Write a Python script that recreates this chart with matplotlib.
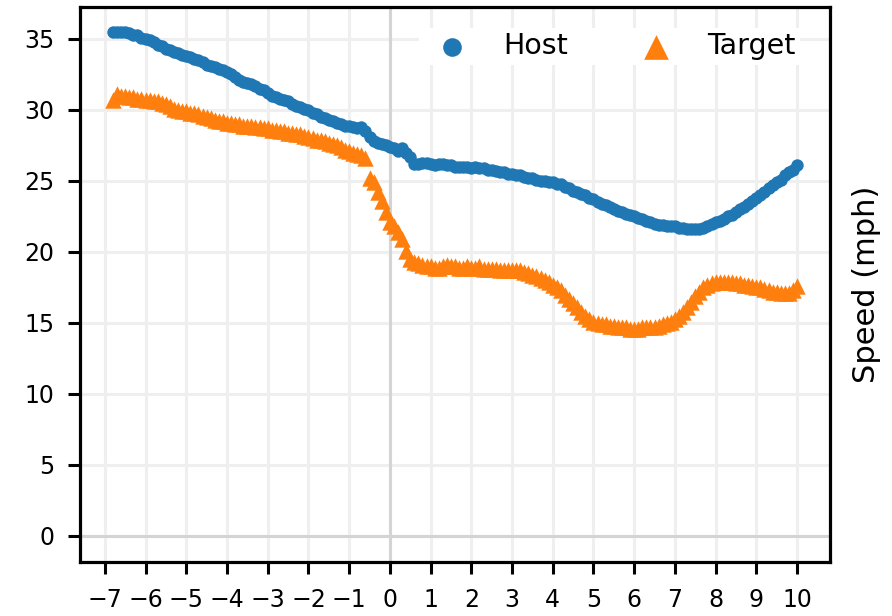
import numpy as np
import matplotlib
matplotlib.use('Agg')
import matplotlib.pyplot as plt

# time relative to the event (s), sampled every 0.1 s
t = np.round(np.arange(-6.8, 10.05, 0.1), 1)

host_speed = [
    35.5, 35.5, 35.5, 35.5, 35.4, 35.3, 35.3, 35.1,
    35.0, 34.9, 34.8, 34.6, 34.5, 34.3, 34.2, 34.1, 34.0, 33.9,
    33.8, 33.7, 33.6, 33.5, 33.4, 33.2, 33.1, 33.0, 32.9, 32.8,
    32.7, 32.5, 32.3, 32.1, 32.0, 31.9, 31.8, 31.7, 31.5, 31.4,
    31.2, 31.0, 30.9, 30.8, 30.7, 30.6, 30.4, 30.3, 30.2, 30.1,
    30.0, 29.8, 29.7, 29.5, 29.4, 29.3, 29.2, 29.1, 29.0, 28.9,
    28.9, 28.8, 28.7, 28.8, 28.5, 28.1, 27.8, 27.7, 27.6, 27.5,
    27.4, 27.3, 27.1, 27.3, 27.0, 26.7, 26.2, 26.2, 26.3, 26.3,
    26.2, 26.1, 26.2, 26.2, 26.1, 26.1, 26.0, 26.0, 26.0, 26.0,
    25.9, 26.0, 25.9, 25.9, 25.8, 25.8, 25.7, 25.6, 25.6, 25.5,
    25.5, 25.4, 25.4, 25.3, 25.2, 25.2, 25.1, 25.0, 25.0, 24.9,
    24.9, 24.8, 24.8, 24.6, 24.5, 24.3, 24.2, 24.1, 24.0, 23.8,
    23.7, 23.5, 23.4, 23.3, 23.2, 23.0, 22.9, 22.8, 22.7, 22.6,
    22.5, 22.4, 22.3, 22.2, 22.1, 22.0, 21.9, 21.9, 21.8, 21.8,
    21.8, 21.7, 21.7, 21.6, 21.6, 21.6, 21.6, 21.7, 21.8, 22.0,
    22.1, 22.2, 22.3, 22.5, 22.6, 22.8, 23.0, 23.2, 23.4, 23.6,
    23.8, 24.0, 24.2, 24.5, 24.7, 24.9, 25.1, 25.4, 25.6, 25.8,
    26.1,
]

target_speed = [
    30.7, 31.1, 31.0, 31.0, 30.9, 30.9, 30.8, 30.8,
    30.7, 30.7, 30.6, 30.6, 30.5, 30.4, 30.3, 30.1, 30.0, 29.9,
    29.9, 29.8, 29.8, 29.7, 29.6, 29.5, 29.4, 29.3, 29.2, 29.2,
    29.1, 29.1, 29.0, 29.0, 28.9, 28.9, 28.9, 28.8, 28.8, 28.7,
    28.7, 28.6, 28.6, 28.5, 28.5, 28.4, 28.4, 28.3, 28.3, 28.2,
    28.1, 28.0, 27.9, 27.9, 27.8, 27.7, 27.6, 27.5, 27.4, 27.2,
    27.1, 27.0, 26.9, 26.8, 26.6, 25.2, 24.9, 24.2, 23.6, 22.8,
    22.1, 21.8, 21.4, 20.9, 20.1, 19.5, 19.3, 19.2, 19.1, 19.0,
    19.0, 18.9, 18.9, 19.0, 19.1, 19.0, 19.0, 18.9, 18.9, 19.0,
    18.9, 18.9, 19.0, 18.8, 18.8, 18.8, 18.8, 18.7, 18.7, 18.7,
    18.7, 18.7, 18.7, 18.6, 18.5, 18.4, 18.3, 18.2, 18.0, 17.9,
    17.7, 17.5, 17.3, 17.0, 16.7, 16.4, 16.1, 15.8, 15.5, 15.3,
    15.1, 15.0, 14.9, 14.9, 14.8, 14.8, 14.7, 14.7, 14.7, 14.6,
    14.6, 14.6, 14.7, 14.7, 14.7, 14.7, 14.8, 14.9, 15.0, 15.1,
    15.3, 15.5, 15.8, 16.1, 16.5, 16.9, 17.2, 17.5, 17.7, 17.8,
    17.9, 17.9, 17.9, 17.9, 17.9, 17.8, 17.8, 17.7, 17.7, 17.6,
    17.5, 17.5, 17.4, 17.3, 17.2, 17.2, 17.1, 17.1, 17.1, 17.3,
    17.6,
]

xticks = list(range(-7, 11))
yticks = [0, 5, 10, 15, 20, 25, 30, 35]

fig = plt.figure(figsize=(8.92, 6.16), dpi=100)
ax = fig.add_axes([0.0897, 0.0877, 0.8408, 0.9009])

ax.set_axisbelow(True)
ax.grid(True, color='#efefef', linewidth=2.2)
ax.axhline(0, color='#d4d4d4', linewidth=2.2, zorder=1)
ax.axvline(0, color='#d4d4d4', linewidth=2.2, zorder=1)

ax.scatter(t, host_speed, s=80, color='#1f77b4', marker='o',
           linewidths=0, label='Host', zorder=3)
ax.scatter(t, target_speed, s=140, color='#ff7f0e', marker='^',
           linewidths=0, label='Target', zorder=3)

ax.set_xlim(-7.61, 10.81)
ax.set_ylim(-1.83, 37.25)
ax.set_xticks(xticks)
ax.set_yticks(yticks)
ax.tick_params(axis='both', labelsize=17, length=8.5, width=2.2,
               direction='out', pad=10)

for sp in ax.spines.values():
    sp.set_linewidth(2.3)
    sp.set_color('black')

ax.set_ylabel('Speed (mph)', fontsize=22, labelpad=16)
ax.yaxis.set_label_position('right')

leg = ax.legend(loc='upper right', bbox_to_anchor=(0.96, 0.962), ncol=2,
                fontsize=20.5, frameon=True, framealpha=1, edgecolor='none',
                facecolor='white', fancybox=False, markerscale=1.5,
                handlelength=2.0, handletextpad=0.8, columnspacing=2.1,
                borderpad=0.15, borderaxespad=0)

fig.savefig('out.png', dpi=100)
